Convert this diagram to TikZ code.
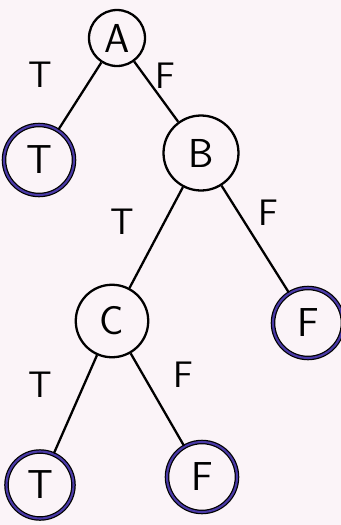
\documentclass[tikz,border=0pt]{standalone}
\usepackage{tikz}
\usetikzlibrary{shapes.geometric}
\definecolor{fond}{HTML}{FBF4F8}
\definecolor{bleufeuille}{HTML}{4A3AA8}

\begin{document}
\begin{tikzpicture}[x=0.02cm, y=-0.02cm,
    noeud/.style={circle, draw=black, line width=1.3pt, inner sep=0pt, font=\sffamily\fontsize{23}{25}\selectfont},
    feuille/.style={noeud, draw=bleufeuille, line width=1.2pt, preaction={draw=black, line width=2.6pt}},
    etiq/.style={font=\sffamily\fontsize{21}{23}\selectfont},
    arete/.style={line width=1.3pt}]
    % Fond et cadre
    \fill[fond] (0,0) rectangle (341,525);
    \useasboundingbox (0,0) rectangle (341,525);

    % Noeuds de decision
    \node[noeud, minimum size=1.12cm] (A) at (117,38) {A};
    \node[noeud, minimum size=1.5cm] (B) at (201,153) {B};
    \node[noeud, minimum size=1.45cm] (C) at (112,321) {C};

    % Feuilles
    \node[feuille, minimum size=1.4cm] (tA) at (39,160) {T};
    \node[feuille, minimum size=1.4cm] (fB) at (308,323) {F};
    \node[feuille, minimum size=1.34cm] (tC) at (40,485) {T};
    \node[feuille, minimum size=1.4cm] (fC) at (202,477) {F};

    % Aretes
    \draw[arete] (A) -- (tA);
    \draw[arete] (A) -- (B);
    \draw[arete] (B) -- (C);
    \draw[arete] (B) -- (fB);
    \draw[arete] (C) -- (tC);
    \draw[arete] (C) -- (fC);

    % Etiquettes des aretes
    \node[etiq] (lAT) at (40,75) {T};
    \node[etiq] (lAF) at (165,76) {F};
    \node[etiq] (lBT) at (122,222) {T};
    \node[etiq] (lBF) at (268,213) {F};
    \node[etiq] (lCT) at (40,385) {T};
    \node[etiq] (lCF) at (183,375) {F};
\end{tikzpicture}
\end{document}
